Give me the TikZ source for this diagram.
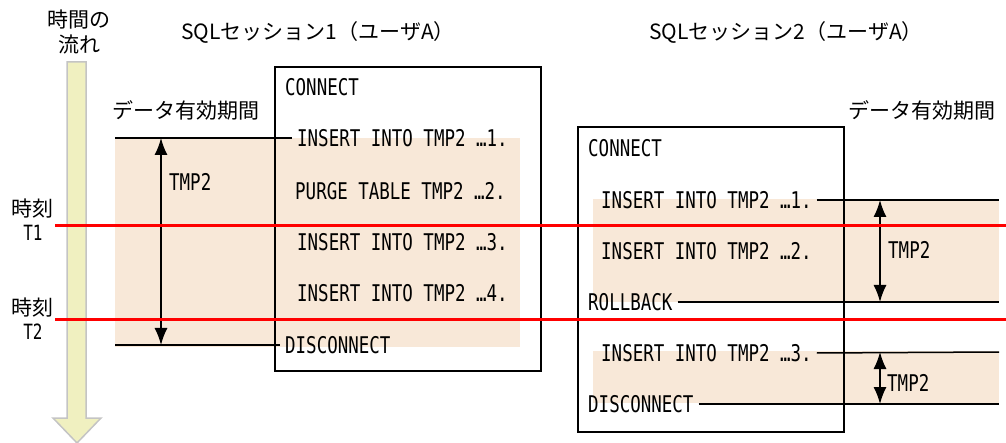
\documentclass[tikz,border=0pt]{standalone}
\usepackage{fontspec}
\setmainfont{Noto Sans CJK JP}
\newfontfamily\sqlfont[FakeStretch=0.76]{DejaVu Sans Mono}
\usepackage{tikz}
\usetikzlibrary{arrows.meta,positioning}
\definecolor{timefill}{RGB}{240,240,192}
\definecolor{timeedge}{RGB}{196,196,196}
\definecolor{validfill}{RGB}{248,232,216}
\tikzset{
  sql/.style={anchor=west,inner xsep=5pt,inner ysep=1pt,font=\sqlfont\fontsize{23}{26}\selectfont},
  jp/.style={font=\fontsize{21}{25}\selectfont,align=center},
  lifeline/.style={line width=1.5pt},
  sessionbox/.style={draw,line width=1.8pt,anchor=north west,inner sep=0pt},
  validrange/.style={line width=1.5pt,{Latex[length=17pt,width=13pt]}-{Latex[length=17pt,width=13pt]}},
  timeline/.style={red,line width=3pt},
}

\begin{document}
\begin{tikzpicture}[x=1pt,y=-1pt]
\useasboundingbox (0,0) rectangle (1006,443);
% time flow arrow
\filldraw[fill=timefill,draw=timeedge,line width=1.5pt]
  (67,62) -- (86,62) -- (86,418) -- (101,418) -- (77,443) -- (53,418) -- (67,418) -- cycle;
\node[jp] (flow) at (79,32) {時間の\\流れ};
% data valid ranges
\fill[validfill] (115,138) rectangle (520,347);
\fill[validfill] (593,199) rectangle (999,302);
\fill[validfill] (593,351) rectangle (999,403);
% session 1
\node[jp] (title1) at (318,32) {SQLセッション1（ユーザA）};
\node[sessionbox,minimum width=266pt,minimum height=304pt] (box1) at (274,66) {};
\node[sql] (conn1) at (280,87) {CONNECT};
\node[sql] (ins11) at (292,138) {INSERT INTO TMP2 …1.};
\node[sql] (purge1) at (290,191) {PURGE TABLE TMP2 …2.};
\node[sql] (ins13) at (292,242) {INSERT INTO TMP2 …3.};
\node[sql] (ins14) at (292,293) {INSERT INTO TMP2 …4.};
\node[sql] (disc1) at (280,345) {DISCONNECT};
\node[jp] (valid1) at (186,110) {データ有効期間};
\coordinate (v1top) at (115,138);
\coordinate (v1bot) at (115,345);
\draw[lifeline] (v1top) -- (ins11.west);
\draw[lifeline] (v1bot) -- (disc1.west);
\coordinate (a1top) at (161,138);
\coordinate (a1bot) at (161,345);
\draw[validrange] (a1top) -- (a1bot);
\node[sql] (tmp1) at (164,182) {TMP2};
% session 2
\node[jp] (title2) at (786,32) {SQLセッション2（ユーザA）};
\node[sessionbox,minimum width=266pt,minimum height=305pt] (box2) at (577,126) {};
\node[sql] (conn2) at (583,148) {CONNECT};
\node[sql] (ins21) at (596,200) {INSERT INTO TMP2 …1.};
\node[sql] (ins22) at (596,251) {INSERT INTO TMP2 …2.};
\node[sql] (roll2) at (583,302) {ROLLBACK};
\node[sql] (ins23) at (596,353) {INSERT INTO TMP2 …3.};
\node[sql] (disc2) at (583,404) {DISCONNECT};
\node[jp] (valid2) at (922,110) {データ有効期間};
\coordinate (e21) at (999,200);
\coordinate (e22) at (999,302);
\coordinate (e23) at (999,352);
\coordinate (e24) at (999,404);
\draw[lifeline] (ins21.east) -- (e21);
\draw[lifeline] (roll2.east) -- (e22);
\draw[lifeline] (ins23.east) -- (e23);
\draw[lifeline] (disc2.east) -- (e24);
\coordinate (a2top) at (880,200);
\coordinate (a2bot) at (880,302);
\coordinate (a3top) at (880,352);
\coordinate (a3bot) at (880,404);
\draw[validrange] (a2top) -- (a2bot);
\draw[validrange] (a3top) -- (a3bot);
\node[sql] (tmp2) at (883,250) {TMP2};
\node[sql] (tmp3) at (882,383) {TMP2};
% points in time
\coordinate (t1s) at (55,226);
\coordinate (t1e) at (1006,226);
\coordinate (t2s) at (55,320);
\coordinate (t2e) at (1006,320);
\draw[timeline] (t1s) -- (t1e);
\draw[timeline] (t2s) -- (t2e);
\node[jp,font=\fontsize{21}{24}\selectfont] (time1) at (33,220) {時刻\\{\sqlfont T1}};
\node[jp,font=\fontsize{21}{24}\selectfont] (time2) at (33,319) {時刻\\{\sqlfont T2}};
\end{tikzpicture}
\end{document}
